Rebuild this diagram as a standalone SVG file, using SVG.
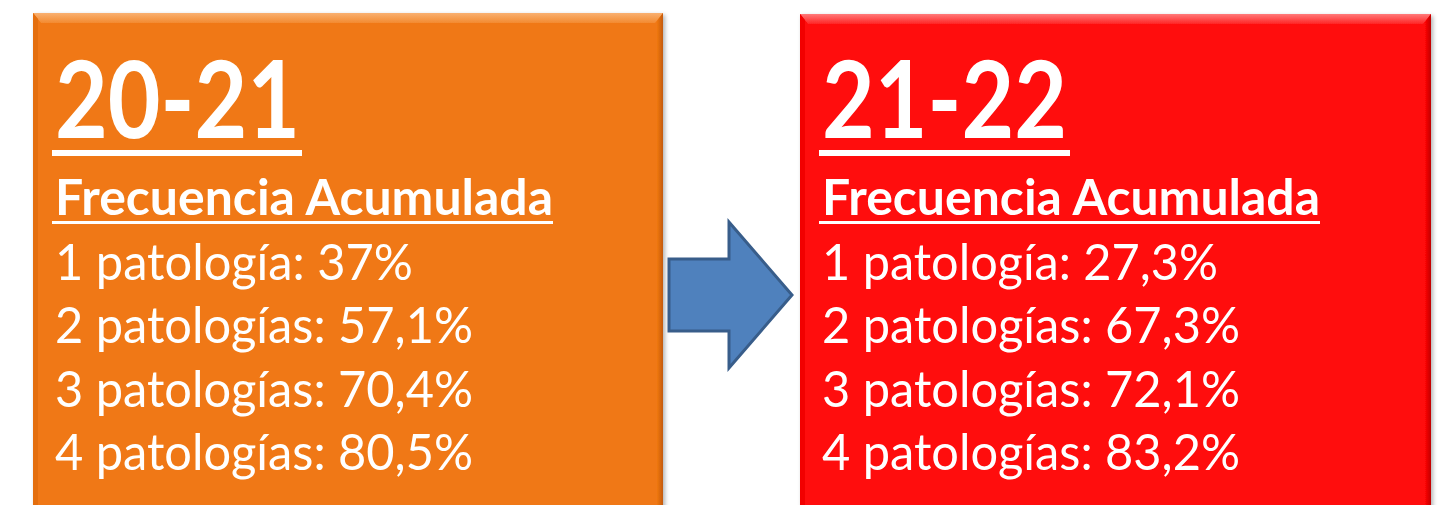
<svg xmlns="http://www.w3.org/2000/svg" width="1442" height="505" viewBox="0 0 1442 505">
<defs>
<style>
.t{font-family:"Lato","Open Sans","Liberation Sans",sans-serif;fill:#FFFFFF}
.big{font-size:108px;font-weight:bold}
.sub{font-size:50px;font-weight:bold}
.row{font-size:51px}
.ul{fill:#FFFFFF}
</style>
<filter id="sh" x="-5%" y="-5%" width="110%" height="110%">
<feDropShadow dx="2" dy="2" stdDeviation="2" flood-color="#000" flood-opacity="0.3"/>
</filter>
<linearGradient id="topO" x1="0" y1="0" x2="0" y2="1"><stop offset="0" stop-color="#F9B070"/><stop offset="1" stop-color="#F38A30"/></linearGradient>
<linearGradient id="topR" x1="0" y1="0" x2="0" y2="1"><stop offset="0" stop-color="#FF7A7A"/><stop offset="1" stop-color="#FF2424"/></linearGradient>
<linearGradient id="rO" x1="0" y1="0" x2="1" y2="0"><stop offset="0" stop-color="#F07812"/><stop offset="1" stop-color="#C45A06"/></linearGradient>
<linearGradient id="rR" x1="0" y1="0" x2="1" y2="0"><stop offset="0" stop-color="#FF0707"/><stop offset="1" stop-color="#C00000"/></linearGradient>
</defs>
<g id="box-2021" filter="url(#sh)">
<rect x="33" y="13" width="630" height="500" fill="#F07812"/>
<polygon points="33,13 663,13 655,23 41,23" fill="url(#topO)"/>
<polygon points="33,13 38,19 38,505 33,505" fill="#E46E0E"/>
<polygon points="663,13 663,505 657,505 657,21" fill="url(#rO)"/>
<text class="t big" x="55" y="138" textLength="245" lengthAdjust="spacingAndGlyphs">20-21</text>
<rect class="ul" x="52" y="150" width="250" height="6"/>
<text class="t sub" x="55" y="215" textLength="498" lengthAdjust="spacingAndGlyphs">Frecuencia Acumulada</text>
<rect class="ul" x="52" y="221" width="501" height="3"/>
<text class="t row" x="55" y="280" textLength="358" lengthAdjust="spacingAndGlyphs">1 patología: 37%</text>
<text class="t row" x="55" y="343" textLength="418" lengthAdjust="spacingAndGlyphs">2 patologías: 57,1%</text>
<text class="t row" x="55" y="407" textLength="418" lengthAdjust="spacingAndGlyphs">3 patologías: 70,4%</text>
<text class="t row" x="55" y="470" textLength="418" lengthAdjust="spacingAndGlyphs">4 patologías: 80,5%</text>
</g>
<g id="box-2122" filter="url(#sh)">
<rect x="800" y="14" width="631" height="500" fill="#FF0707"/>
<polygon points="800,14 1431,14 1423,24 808,24" fill="url(#topR)"/>
<polygon points="800,14 805,20 805,505 800,505" fill="#F20000"/>
<polygon points="1431,14 1431,505 1425,505 1425,22" fill="url(#rR)"/>
<text class="t big" x="822" y="138" textLength="245" lengthAdjust="spacingAndGlyphs">21-22</text>
<rect class="ul" x="819" y="150" width="251" height="6"/>
<text class="t sub" x="822" y="215" textLength="498" lengthAdjust="spacingAndGlyphs">Frecuencia Acumulada</text>
<rect class="ul" x="819" y="221" width="501" height="3"/>
<text class="t row" x="822" y="280" textLength="396" lengthAdjust="spacingAndGlyphs">1 patología: 27,3%</text>
<text class="t row" x="822" y="343" textLength="418" lengthAdjust="spacingAndGlyphs">2 patologías: 67,3%</text>
<text class="t row" x="822" y="407" textLength="418" lengthAdjust="spacingAndGlyphs">3 patologías: 72,1%</text>
<text class="t row" x="822" y="470" textLength="418" lengthAdjust="spacingAndGlyphs">4 patologías: 83,2%</text>
</g>
<g id="connectors">
<polygon points="669,259 729,259 729,222 792,295 729,368 729,331 669,331" fill="#4F81BD" stroke="#385D8A" stroke-width="3" stroke-linejoin="miter"/>
</g>
</svg>
